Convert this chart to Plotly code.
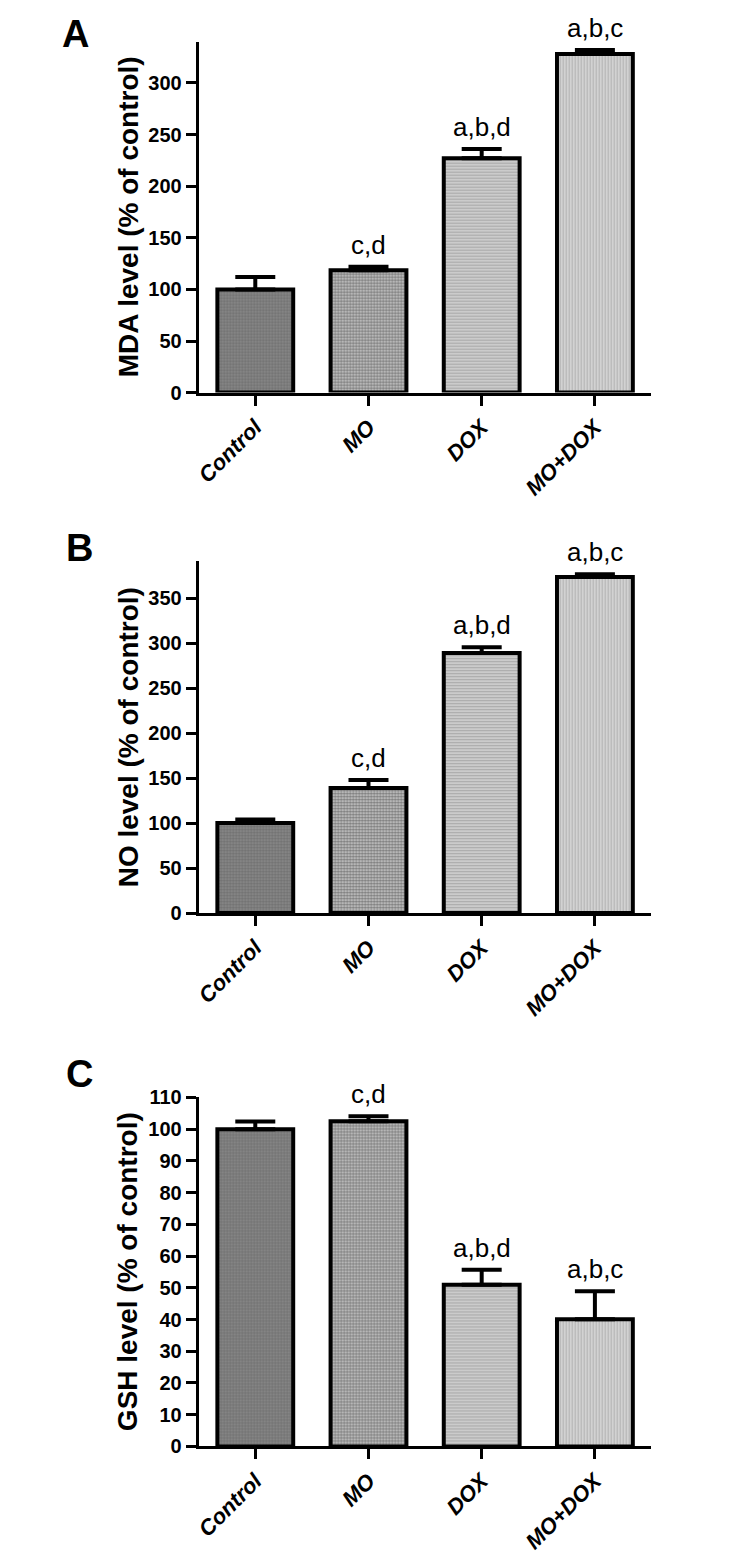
import plotly.graph_objects as go

# ---------------- data ----------------
categories = ["Control", "MO", "DOX", "MO+DOX"]

mda_mean = [100, 118.5, 227, 328]
mda_sem = [12, 3.5, 9, 4]

no_mean = [100, 139, 289, 373.5]
no_sem = [4, 9, 6.5, 3]

gsh_mean = [100, 102.5, 51, 40.1]
gsh_sem = [2.4, 1.6, 4.7, 8.8]

sig_labels = ["", "c,d", "a,b,d", "a,b,c"]

panel_letters = ["A", "B", "C"]
y_titles = ["MDA level (% of control)", "NO level (% of control)", "GSH level (% of control)"]
y_ranges = [[0, 340], [0, 391], [0, 110]]
y_dticks = [50, 50, 10]

# ---------------- styling ----------------
OFF = 8  # default body margin of the html page (all sides)
W, H = 730 - 2 * OFF, 1565 - 2 * OFF
FONT = "Liberation Sans, Arial, sans-serif"
x_left, x_right = 195, 651
# (top px, bottom px) for each panel's plot area, in page coordinates
panel_px = [(31, 387), (558, 915), (1102, 1456)]

patterns = [
    dict(shape=".", bgcolor="#8a8a8a", fgcolor="#555555", size=3, solidity=0.5),
    dict(shape=".", bgcolor="#d2d2d2", fgcolor="#1e1e1e", size=3, solidity=0.6),
    dict(shape="-", bgcolor="#d2d2d2", fgcolor="#7e7e7e", size=3, solidity=0.45),
    dict(shape="|", bgcolor="#d8d8d8", fgcolor="#8c8c8c", size=3, solidity=0.45),
]


def py(px):
    return 1 - (px - OFF) / H


def pxx(px):
    return (px - OFF) / W


fig = go.Figure()
series = [(mda_mean, mda_sem), (no_mean, no_sem), (gsh_mean, gsh_sem)]

for i, (means, sems) in enumerate(series):
    sfx = "" if i == 0 else str(i + 1)
    for j, cat in enumerate(categories):
        fig.add_trace(go.Bar(
            x=[cat], y=[means[j]],
            xaxis="x" + sfx, yaxis="y" + sfx,
            width=0.67,
            marker=dict(color=patterns[j]["bgcolor"], pattern=patterns[j],
                        line=dict(color="black", width=4)),
            error_y=dict(type="data", symmetric=False, array=[sems[j]], arrayminus=[0],
                         color="black", thickness=4, width=20),
            showlegend=False, hoverinfo="skip",
        ))
    top, bot = panel_px[i]
    fig.update_layout(**{
        "xaxis" + sfx: dict(
            domain=[pxx(x_left), pxx(x_right)], anchor="y" + sfx,
            type="category", range=[-0.5, 3.5], categoryorder="array", categoryarray=categories,
            showline=True, linewidth=3, linecolor="black", mirror=False,
            ticks="outside", ticklen=10, tickwidth=3, tickcolor="black",
            tickangle=-45, showgrid=False, zeroline=False,
            tickfont=dict(family=FONT, size=22, color="black", weight="bold", style="italic"),
        ),
        "yaxis" + sfx: dict(
            domain=[py(bot), py(top)], anchor="x" + sfx,
            range=y_ranges[i], dtick=y_dticks[i], tick0=0,
            showline=True, linewidth=3, linecolor="black",
            ticks="outside", ticklen=10, tickwidth=3, tickcolor="black",
            showgrid=False, zeroline=False,
            tickfont=dict(family=FONT, size=20, color="black", weight="bold"),
        ),
    })
    # significance labels
    for j, lab in enumerate(sig_labels):
        if lab:
            fig.add_annotation(
                x=categories[j], y=means[j] + sems[j], xref="x" + sfx, yref="y" + sfx,
                text=lab, showarrow=False, yanchor="bottom", xanchor="center", yshift=5,
                font=dict(family=FONT, size=26, color="black"),
            )
    # y-axis title
    fig.add_annotation(
        x=pxx(124), y=py((top + bot) / 2), xref="paper", yref="paper",
        text=y_titles[i], textangle=-90, showarrow=False,
        xanchor="center", yanchor="middle",
        font=dict(family=FONT, size=28, color="black", weight="bold"),
    )

letter_pos = [(71, 23), (75, 545), (75, 1078)]
for i, lt in enumerate(panel_letters):
    fig.add_annotation(
        x=pxx(letter_pos[i][0]), y=py(letter_pos[i][1]), xref="paper", yref="paper",
        text=lt, showarrow=False, xanchor="center", yanchor="middle",
        font=dict(family=FONT, size=38, color="black", weight="bold"),
    )

fig.update_layout(
    width=W, height=H, margin=dict(l=0, r=0, t=0, b=0),
    paper_bgcolor="white", plot_bgcolor="white",
    showlegend=False,
)

fig.write_html("out.html", config={"displayModeBar": False})
